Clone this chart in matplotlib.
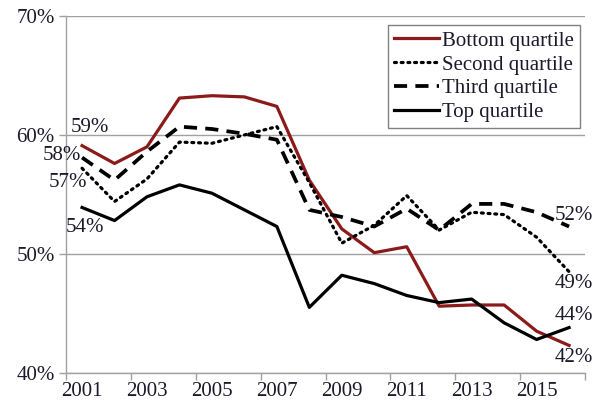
import numpy as np
import matplotlib
matplotlib.use("Agg")
import matplotlib.pyplot as plt
from matplotlib.ticker import FixedLocator, FuncFormatter

plt.rcParams["font.family"] = ["Liberation Serif", "DejaVu Serif"]

years = list(range(2001, 2017))
bottom = [59.1, 57.6, 59.0, 63.1, 63.3, 63.2, 62.4, 56.2, 52.1, 50.1, 50.6, 45.6, 45.7, 45.7, 43.5, 42.3]
second = [57.2, 54.4, 56.3, 59.4, 59.3, 60.0, 60.7, 56.0, 50.9, 52.4, 54.9, 52.0, 53.5, 53.3, 51.4, 48.5]
third = [58.1, 56.2, 58.6, 60.7, 60.5, 60.1, 59.6, 53.7, 53.1, 52.3, 53.8, 52.0, 54.2, 54.2, 53.5, 52.3]
top = [53.9, 52.8, 54.8, 55.8, 55.1, 53.7, 52.3, 45.5, 48.2, 47.5, 46.5, 45.9, 46.2, 44.2, 42.8, 43.8]
series_labels = ["Bottom quartile", "Second quartile", "Third quartile", "Top quartile"]
year_labels = [2001, 2003, 2005, 2007, 2009, 2011, 2013, 2015]

RED = "#8B1A1A"
GRID = "#a0a0a0"
TXT = "#1a1a2a"
fs = 15

fig = plt.figure(figsize=(5.93, 4.11), dpi=100)
ax = fig.add_axes([0.111, 0.093, 0.876, 0.868])

ax.plot(years, bottom, color=RED, lw=2.3, label=series_labels[0])
ax.plot(years, second, color="black", lw=2.3, ls=(0, (0.6, 1.5)), dash_capstyle="round",
        label=series_labels[1])
ax.plot(years, third, color="black", lw=2.7, ls=(0, (3.5, 2.2)), label=series_labels[2])
ax.plot(years, top, color="black", lw=2.3, label=series_labels[3])

ax.set_xlim(2000.5, 2016.5)
ax.set_ylim(40, 70)
ax.yaxis.set_major_locator(FixedLocator([40, 50, 60, 70]))
ax.yaxis.set_major_formatter(FuncFormatter(lambda v, p: f"{v:.0f}%"))
ax.grid(axis="y", color=GRID, lw=1)
ax.set_axisbelow(True)

# year labels sit between tick marks; tick marks every two years on category boundaries
ax.xaxis.set_major_locator(FixedLocator(year_labels))
ax.xaxis.set_minor_locator(FixedLocator(np.arange(2000.5, 2017, 2)))
ax.tick_params(axis="x", which="major", length=0, pad=7)
ax.tick_params(axis="x", which="minor", length=5, color=GRID, width=1)
ax.tick_params(axis="y", length=5, color=GRID, width=1, pad=3)
ax.tick_params(labelsize=fs, labelcolor=TXT)

for s in ["top", "right"]:
    ax.spines[s].set_visible(False)
for s in ["left", "bottom"]:
    ax.spines[s].set_color(GRID)
    ax.spines[s].set_linewidth(1)

# end labels
ax.text(2001.25, 60.65, "59%", fontsize=fs, color=TXT, ha="center", va="center")
ax.text(2000.38, 58.3, "58%", fontsize=fs, color=TXT, ha="center", va="center", clip_on=False)
ax.text(2000.55, 56.0, "57%", fontsize=fs, color=TXT, ha="center", va="center")
ax.text(2001.1, 52.2, "54%", fontsize=fs, color=TXT, ha="center", va="center")
ax.text(2016.15, 53.2, "52%", fontsize=fs, color=TXT, ha="center", va="center", clip_on=False)
ax.text(2016.15, 47.5, "49%", fontsize=fs, color=TXT, ha="center", va="center", clip_on=False)
ax.text(2016.15, 44.8, "44%", fontsize=fs, color=TXT, ha="center", va="center", clip_on=False)
ax.text(2016.15, 41.3, "42%", fontsize=fs, color=TXT, ha="center", va="center", clip_on=False)

leg = ax.legend(loc="upper right", bbox_to_anchor=(0.990, 0.975), borderaxespad=0,
                fontsize=fs, handlelength=2.15, handletextpad=0.15, labelspacing=0.2,
                borderpad=0.3, fancybox=False, framealpha=1)
leg.get_frame().set_edgecolor("#808080")
leg.get_frame().set_linewidth(1)
for t in leg.get_texts():
    t.set_color(TXT)

fig.savefig("out.png", dpi=100)
